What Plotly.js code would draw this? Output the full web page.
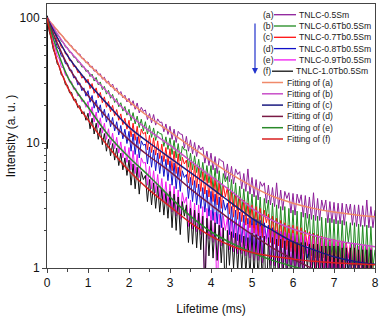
<!DOCTYPE html>
<html><head><meta charset="utf-8">
<script src="https://cdn.plot.ly/plotly-3.0.1.min.js"></script>
<style>html,body{margin:0;padding:0;background:#fff;}#chart{width:387px;height:316px;}</style>
</head><body><div id="chart"></div>
<script>
// time grid of the measured decays (ms)
const T = [0,0.05,0.1,0.15,0.2,0.25,0.3,0.35,0.4,0.45,0.5,0.55,0.6,0.65,0.7,0.75,0.8,0.85,0.9,0.95,
 1,1.05,1.1,1.15,1.2,1.25,1.3,1.35,1.4,1.45,1.5,1.55,1.6,1.65,1.7,1.75,1.8,1.85,1.9,1.95,
 2,2.05,2.1,2.15,2.2,2.25,2.3,2.35,2.4,2.45,2.5,2.55,2.6,2.65,2.7,2.75,2.8,2.85,2.9,2.95,
 3,3.05,3.1,3.15,3.2,3.25,3.3,3.35,3.4,3.45,3.5,3.55,3.6,3.65,3.7,3.75,3.8,3.85,3.9,3.95,
 4,4.05,4.1,4.15,4.2,4.25,4.3,4.35,4.4,4.45,4.5,4.55,4.6,4.65,4.7,4.75,4.8,4.85,4.9,4.95,
 5,5.05,5.1,5.15,5.2,5.25,5.3,5.35,5.4,5.45,5.5,5.55,5.6,5.65,5.7,5.75,5.8,5.85,5.9,5.95,
 6,6.05,6.1,6.15,6.2,6.25,6.3,6.35,6.4,6.45,6.5,6.55,6.6,6.65,6.7,6.75,6.8,6.85,6.9,6.95,
 7,7.05,7.1,7.15,7.2,7.25,7.3,7.35,7.4,7.45,7.5,7.55,7.6,7.65,7.7,7.75,7.8,7.85,7.9,7.95,8];

// measured data (a)..(f)
const dataA = [104,97,90,88.5,82,80.5,75,73.5,70.5,65.5,65,60.5,60,55.5,55.5,51.5,51.5,47.5,47.5,43.8,
 44.5,40.5,41.2,37.5,38.6,35,35.8,32.4,33.6,30.2,31.3,28.2,29.6,26.3,27.6,24.5,25.8,23,24.1,21.3,
 22.8,20,21.8,18.6,20.9,17.4,19.3,17.9,18.4,15.4,17.2,14.5,16.9,13.9,15.6,14.6,14.7,12.3,14.2,11.7,
 13.6,10.7,12.9,10.1,12.4,11.8,11.7,9.1,11.3,8.6,10.6,8.2,10.1,7.8,9.6,8.8,9.3,6.9,8.6,6.6,
 8.3,6.1,7.8,5.7,7.5,7.2,7.1,5.2,6.8,4.9,6.5,4.7,6.2,5.6,5.9,4.3,5.7,4.1,6.2,3.9,
 5.3,3.7,5.1,3.5,4.9,4.5,4.8,3.3,4.6,3.2,4.4,3.1,4.8,3.0,4.2,2.9,4.1,3.6,4.0,2.75,
 3.95,2.65,3.9,3.3,3.85,2.55,3.8,2.5,3.7,2.45,4.0,2.4,3.6,2.4,3.5,2.9,3.5,2.3,3.4,2.3,
 3.35,2.25,3.3,2.25,3.3,2.2,3.25,2.7,3.25,2.2,3.2,2.15,3.2,2.15,3.15,2.15,3.5,2.1,3.1,2.1,2.9];
const dataB = [103,93,89,81.5,79,72.5,71,65,64,58.5,58,53,53,48.5,48.5,44.2,44.5,40.5,41,37.3,
 38.3,34,35.6,31.3,33.5,29.2,30.8,26.7,28.4,24.6,26.4,22.8,24.5,21.1,22.7,19.5,21,18,19.6,16.7,
 18.6,15.1,17.5,14.2,16.4,13.3,15.5,12.5,14.8,11.8,13.8,11.1,13.2,10.5,12.4,11.9,11.8,9.4,11.2,8.9,
 11,8.1,10.5,7.6,9.9,7.2,9.4,8.8,8.8,6.4,8.3,6.1,7.9,5.8,7.4,5.3,7.0,5.0,6.6,4.8,
 6.6,4.2,6.3,3.9,6.0,3.7,5.7,4.9,5.4,3.3,5.1,3.1,4.8,2.9,4.5,2.8,4.3,2.6,4.1,2.5,
 3.9,2.1,3.8,2.0,3.7,1.9,3.6,2.6,3.5,1.7,3.3,1.65,3.2,1.6,3.1,1.55,3.1,1.5,3.0,1.45,
 2.9,1.35,2.85,1.3,2.8,1.3,2.75,1.9,2.7,1.25,2.65,1.2,2.6,1.2,2.55,1.2,2.5,1.15,2.5,1.15,
 2.45,1.1,2.4,1.1,2.4,1.1,2.35,1.6,2.3,1.05,2.3,1.05,2.25,1.05,2.2,1.0,2.2,1.0,2.15,1.0,1.4];
const dataC = [103,91,86.5,77,74,66,64.5,58,57.5,51.5,51.5,45.5,45.8,40.8,41.3,36.6,37.2,33,34.2,30.3,
 32.4,27.2,29.9,25,27.6,23,25.4,21,23.4,19.3,21.5,17.8,20,16.5,18.5,15.2,17.1,14,15.8,12.9,
 15.2,11.2,14.4,10.5,13.6,9.9,12.9,11.8,12.2,8.8,11.5,8.4,11,8,10.4,7.5,9.8,7.1,9.2,6.7,
 9.0,6.0,8.6,5.7,8.2,5.4,7.7,6.8,7.3,4.8,7.0,4.6,6.6,4.4,6.3,4.1,5.9,3.9,5.6,3.7,
 5.4,3.4,5.2,3.2,4.9,3.0,4.6,3.7,4.4,2.7,4.1,2.55,3.9,2.45,3.7,2.35,3.5,2.2,3.3,2.1,
 3.2,1.9,3.1,1.8,3.0,1.75,2.9,2.3,2.7,1.6,2.6,1.55,2.5,1.5,2.4,1.45,2.3,1.4,2.2,1.35,
 2.2,1.2,2.15,1.15,2.1,1.1,2.0,1.5,1.95,1.05,1.9,1.0,1.85,1.0,1.8,0.95,1.75,0.95,1.7,0.9,
 1.7,0.9,1.65,0.85,1.65,0.85,1.6,1.2,1.55,0.8,1.55,0.8,1.5,0.8,1.5,0.75,1.45,0.75,1.45,0.75,1.0];
const dataD = [104,88,81,71,67,58.5,56,49.5,48.5,43,43.5,38,38.3,33.2,33.8,29.2,30.3,26.2,27.6,23.7,
 26.2,21.2,24,19,22,17.5,20.2,16,18.6,14.7,17.2,13.5,16,12.5,14.8,11.6,13.8,10.8,12.9,9.9,
 12.4,8.6,11.8,8.1,11.2,7.6,10.4,9.6,9.8,6.8,9.3,6.4,8.8,6.0,8.3,5.7,7.9,5.4,7.4,5.0,
 7.2,4.6,6.9,4.3,6.4,4.1,6.0,5.3,5.6,3.6,5.3,3.4,5.0,3.2,4.7,3.0,4.4,2.8,4.2,2.6,
 4.1,2.4,3.9,2.25,3.7,2.1,3.5,2.9,3.3,1.85,3.1,1.75,2.9,1.65,2.8,1.6,2.65,1.5,2.5,1.45,
 2.5,1.35,2.45,1.3,2.4,1.25,2.3,1.7,2.2,1.1,2.1,1.05,2.0,1.0,1.95,0.95,1.9,0.9,1.85,0.85,
 1.8,0.85,1.75,0.8,1.7,0.75,1.65,1.2,1.6,0.7,1.55,0.7,1.5,0.65,1.5,0.65,1.45,0.6,1.4,0.6,
 1.4,0.6,1.35,0.55,1.35,0.55,1.3,0.9,1.3,0.5,1.25,0.5,1.25,0.5,1.2,0.45,1.2,0.45,1.2,0.45,0.8];
const dataE = [103,84,75,63.5,58,49.5,47,40.5,40,34.8,35,30.6,30.9,26.9,27.4,23.8,24.3,21.4,22,19.3,
 21.5,16.3,19.5,14.7,17.7,13.3,15.9,12,14.4,10.7,13,9.7,12,9.0,11.1,8.3,10.2,7.6,9.4,7.0,
 9.2,6.1,8.7,5.7,8.1,5.3,7.6,6.9,7.0,4.6,6.5,4.3,6.0,4.0,5.6,3.7,5.2,3.45,4.9,3.2,
 4.7,2.8,4.5,2.6,4.2,2.45,4.0,3.3,3.7,2.15,3.5,2.05,3.3,1.95,3.2,1.85,3.1,0.5,3.0,1.7,
 2.9,1.6,2.8,0.45,2.7,1.5,2.6,2.0,2.5,1.4,2.45,1.35,2.4,1.3,2.35,1.3,2.3,1.25,2.25,1.2,
 2.2,1.15,2.2,1.15,2.15,1.1,2.1,1.6,2.05,1.05,2.0,1.05,2.0,1.0,1.95,1.0,1.95,0.95,1.9,0.95,
 1.9,0.9,1.85,0.9,1.85,0.85,1.8,1.3,1.8,0.85,1.75,0.8,1.75,0.8,1.7,0.8,1.7,0.75,1.65,0.75,
 1.65,0.7,1.6,0.7,1.6,0.7,1.55,1.1,1.55,0.65,1.55,0.65,1.5,0.65,1.5,0.6,1.5,0.6,1.45,0.6,1.0];
const dataF = [100,79,69,56.5,51,43,41,35,34,29.2,29,25.2,25.4,22,22.4,19.2,19.9,17.1,17.8,15.2,
 17.3,13,15.8,11.8,14.4,10.7,13.2,9.7,11.9,8.6,10.7,7.9,9.9,7.3,9.1,6.6,8.3,6.1,7.6,5.5,
 7.3,4.6,6.8,4.3,6.4,3.9,5.9,5.1,5.5,3.4,5.1,3.2,4.8,3.0,4.5,2.8,4.3,2.65,4.0,2.5,
 4.1,2.1,3.9,2.0,3.7,1.85,3.4,2.6,3.2,1.6,3.0,1.55,2.9,1.45,2.75,1.4,2.6,0.6,2.5,1.25,
 2.4,1.2,2.3,1.15,2.2,1.1,2.1,0.55,2.0,1.05,1.95,1.0,1.9,0.95,1.85,0.95,1.8,0.9,1.75,0.85,
 1.9,0.85,1.85,0.8,1.8,0.8,1.8,0.5,1.75,0.8,1.75,0.75,1.7,0.75,1.7,0.75,1.65,0.7,1.65,0.7,
 1.65,0.7,1.6,0.7,1.6,0.65,1.6,1.0,1.55,0.65,1.55,0.65,1.55,0.6,1.5,0.6,1.5,0.6,1.5,0.6,
 1.5,0.6,1.5,0.55,1.45,0.55,1.45,0.9,1.45,0.55,1.45,0.55,1.4,0.5,1.4,0.5,1.4,0.5,1.4,0.5,1.0];
// rising edge of the excitation pulse at t = 0
const riseT = [0, 0];
const riseY = [9, 104];

// fitted curves
const TF = [0,0.25,0.5,0.75,1,1.5,2,2.5,3,3.5,4,4.5,5,5.5,6,6.5,7,7.5,8];
const fitA = [100,80,64,52,43,30,21.5,16,12.3,9.4,7.2,5.6,4.5,3.75,3.3,3.0,2.8,2.67,2.57];
const fitB = [100,75,57,46,37,25,17,12.5,9.6,7.2,5.4,4.1,3.0,2.4,2.05,1.82,1.67,1.56,1.48];
const fitC = [100,70,50,38.5,30.5,20,13.4,10,7.6,5.8,4.4,3.3,2.5,2.0,1.62,1.4,1.23,1.13,1.07];
const fitD = [100,63,42,31,24,15.5,10.6,7.8,5.9,4.3,3.2,2.4,1.85,1.45,1.18,0.98,0.82,0.7,0.6];
const fitE = [100,55,34,25,19.4,11.5,7.7,5.4,3.7,2.6,1.95,1.58,1.33,1.15,1.03,0.93,0.85,0.78,0.72];
const fitF = [100,45,28,20,15.3,9.3,6.0,4.2,3.1,2.3,1.8,1.5,1.33,1.24,1.18,1.13,1.1,1.08,1.06];

const letters = ['(a)','(b)','(c)','(d)','(e)','(f)'];
const sampleNames = ['TNLC-0.5Sm','TNLC-0.6Tb0.5Sm','TNLC-0.7Tb0.5Sm','TNLC-0.8Tb0.5Sm','TNLC-0.9Tb0.5Sm','TNLC-1.0Tb0.5Sm'];
const fitNames = ['Fitting of (a)','Fitting of (b)','Fitting of (c)','Fitting of (d)','Fitting of (e)','Fitting of (f)'];
const dataColors = ['#8e1f9a','#1f8a1f','#ff1010','#1010c8','#f018f0','#111111'];
const fitColors = ['#f08a6a','#c94fc9','#1a1a80','#7a1a45','#2a8a2a','#d81f1f'];
const xTicks = [0,1,2,3,4,5,6,7,8];
const xTickText = ['0','1','2','3','4','5','6','7','8'];
const yTicks = [1,10,100];
const yTickText = ['1','10','100'];
const yMinor = [2,3,4,5,6,7,8,9,20,30,40,50,60,70,80,90];

const dataSets = [dataA,dataB,dataC,dataD,dataE,dataF];
const fitSets = [fitA,fitB,fitC,fitD,fitE,fitF];

const traces = [];
dataSets.forEach((d,i)=>traces.push({x:T,y:d,mode:'lines',name:sampleNames[i],
  line:{color:dataColors[i],width:1},showlegend:false,hoverinfo:'skip'}));
traces.push({x:riseT,y:riseY,mode:'lines',line:{color:dataColors[5],width:2},showlegend:false,hoverinfo:'skip'});
fitSets.forEach((f,i)=>traces.push({x:TF,y:f,mode:'lines',name:fitNames[i],
  line:{color:fitColors[i],width:1.5,shape:'spline',smoothing:1},showlegend:false,hoverinfo:'skip'}));

// compact legend drawn in paper coordinates
const L=47, R=375, TOP=4, BOT=268;
const px2x = p => (p-L)/(R-L);
const py2y = p => (BOT-p)/(BOT-TOP);
const annotations = [], shapes = [];
const rowStart = 14.7, rowStep = 11.3;
const lf = {family:'Arial, "Liberation Sans", sans-serif', size:8.6, color:'#1a1a1a'};
letters.forEach((lab,i)=>{
  const y = py2y(rowStart + i*rowStep);
  annotations.push({xref:'paper',yref:'paper',x:px2x(261),y:y,xanchor:'left',yanchor:'middle',text:lab,showarrow:false,font:lf});
  shapes.push({type:'line',xref:'paper',yref:'paper',x0:px2x(i===5?272:274),x1:px2x(i===5?293:296),y0:y,y1:y,line:{color:dataColors[i],width:1.3}});
  annotations.push({xref:'paper',yref:'paper',x:px2x(i===5?294:296.5),y:y,xanchor:'left',yanchor:'middle',text:sampleNames[i],showarrow:false,font:lf});
});
fitNames.forEach((lab,i)=>{
  const y = py2y(rowStart + (i+6)*rowStep);
  shapes.push({type:'line',xref:'paper',yref:'paper',x0:px2x(262),x1:px2x(283),y0:y,y1:y,line:{color:fitColors[i],width:1.5}});
  annotations.push({xref:'paper',yref:'paper',x:px2x(284.5),y:y,xanchor:'left',yanchor:'middle',text:lab,showarrow:false,font:lf});
});
// blue arrow beside the sample list
annotations.push({xref:'paper',yref:'paper',x:px2x(255),y:py2y(74),ax:0,ay:-59,text:' ',showarrow:true,
  arrowhead:2,arrowsize:1,arrowwidth:1.2,arrowcolor:'#2233cc'});

const axisCommon = {showline:true,mirror:true,linecolor:'#444',linewidth:1,showgrid:false,zeroline:false,
  ticks:'outside',ticklen:4,tickwidth:1,tickcolor:'#444',
  tickfont:{family:'Arial, "Liberation Sans", sans-serif',size:12,color:'#111'}};

const layout = {
  width:387,height:316,margin:{l:47,r:12,t:4,b:48},
  paper_bgcolor:'#ffffff',plot_bgcolor:'#ffffff',showlegend:false,
  font:{family:'Arial, "Liberation Sans", sans-serif',size:12,color:'#111'},
  xaxis:Object.assign({},axisCommon,{range:[0,8],tickmode:'array',tickvals:xTicks,ticktext:xTickText,
    minor:{dtick:0.5,ticks:'outside',ticklen:2.5,tickcolor:'#444'},
    title:{text:'Lifetime (ms)',font:{size:12},standoff:16}}),
  yaxis:Object.assign({},axisCommon,{type:'log',range:[0,2.112],tickmode:'array',tickvals:yTicks,ticktext:yTickText,
    minor:{tickmode:'array',tickvals:yMinor,ticks:'outside',ticklen:2.5,tickcolor:'#444'},
    title:{text:'Intensity (a. u. )',font:{size:12},standoff:1}}),
  annotations:annotations,shapes:shapes
};
Plotly.newPlot('chart',traces,layout,{staticPlot:true,displayModeBar:false});
</script></body></html>
